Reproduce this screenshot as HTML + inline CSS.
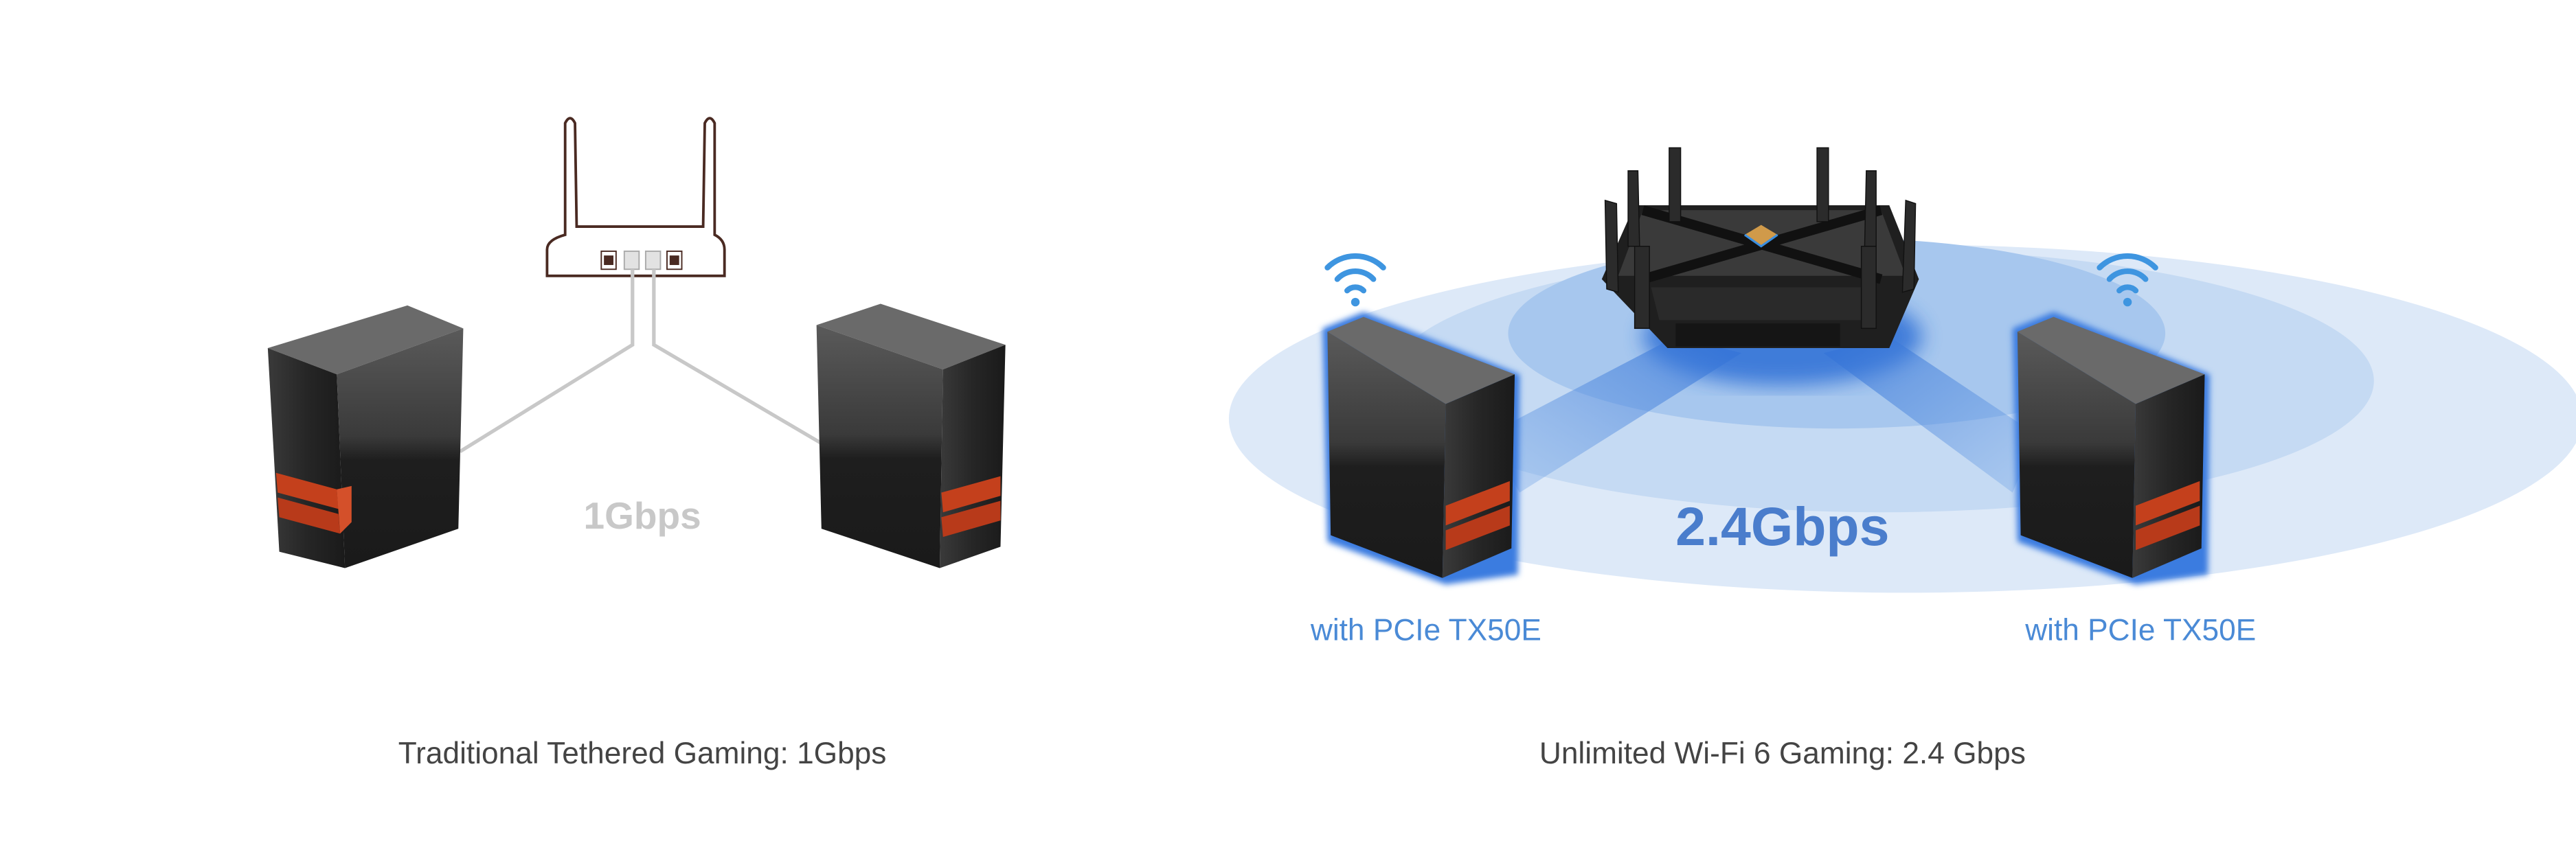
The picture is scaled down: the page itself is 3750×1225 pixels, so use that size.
<!DOCTYPE html>
<html><head><meta charset="utf-8"><style>
html,body{margin:0;padding:0;background:#fff;width:3750px;height:1225px;overflow:hidden}
svg{display:block}
text{font-family:"Liberation Sans",sans-serif}
</style></head><body>
<svg width="3750" height="1225" viewBox="0 0 1568 512.2" xmlns="http://www.w3.org/2000/svg">
<defs>
<linearGradient id="side" x1="0" y1="0" x2="0" y2="1"><stop offset="0" stop-color="#5a5a5a"/><stop offset="0.45" stop-color="#3a3a3a"/><stop offset="0.55" stop-color="#1e1e1e"/><stop offset="1" stop-color="#1a1a1a"/></linearGradient>
<linearGradient id="front" x1="0" y1="0" x2="1" y2="0"><stop offset="0" stop-color="#3a3a3a"/><stop offset="0.5" stop-color="#262626"/><stop offset="1" stop-color="#1a1a1a"/></linearGradient>
<linearGradient id="beamL" x1="1" y1="0" x2="0" y2="1"><stop offset="0" stop-color="#2f6fd6" stop-opacity="0.9"/><stop offset="1" stop-color="#6fa3e6" stop-opacity="0.4"/></linearGradient>
<linearGradient id="beamR" x1="0" y1="0" x2="1" y2="1"><stop offset="0" stop-color="#2f6fd6" stop-opacity="0.9"/><stop offset="1" stop-color="#6fa3e6" stop-opacity="0.4"/></linearGradient>
<filter id="glow" x="-20%" y="-20%" width="140%" height="140%"><feGaussianBlur stdDeviation="1.8"/></filter>
<filter id="soft"><feGaussianBlur stdDeviation="6"/></filter>
</defs>

<!-- LEFT: tethered -->
<g fill="none" stroke="#4a2a22" stroke-width="1.6">
<path d="M344,143 L344,75 Q347,69 350,75 L351,138 L428,138 L429,75 Q432,69 435,75 L435,143 Q441,146 441,152 L441,168 L333,168 L333,152 Q333,146 344,143 Z"/>
</g>
<g stroke="#4a2a22" stroke-width="0.8">
<rect x="366" y="153" width="9" height="11" fill="#fff"/><rect x="368" y="156" width="5" height="5" fill="#4a2a22"/>
<rect x="380" y="153" width="9" height="11" fill="#e2e2e2" stroke="#aaa"/>
<rect x="393" y="153" width="9" height="11" fill="#e2e2e2" stroke="#aaa"/>
<rect x="406" y="153" width="9" height="11" fill="#fff"/><rect x="408" y="156" width="5" height="5" fill="#4a2a22"/>
</g>
<g fill="none" stroke="#c8c8c8" stroke-width="2.2">
<polyline points="385,164 385,210 280,275"/>
<polyline points="398,164 398,210 500,270"/>
</g>

<g>
<polygon points="163,212 248,186 282,200 205,228" fill="#6a6a6a"/>
<polygon points="163,212 205,228 210,346 170,336" fill="url(#front)"/>
<polygon points="205,228 282,200 279,322 210,346" fill="url(#side)"/>
<polygon points="168,288 205,298 206,310 169,300" fill="#c4401c"/>
<polygon points="169,303 206,313 207,325 170,315" fill="#b83a1a"/>
<polygon points="205,298 214,296 214,318 207,325" fill="#d4502a"/>
</g>
<g>
<polygon points="497,198 536,185 612,210 574,225" fill="#6a6a6a"/>
<polygon points="497,198 574,225 572,346 500,322" fill="url(#side)"/>
<polygon points="574,225 612,210 609,333 572,346" fill="url(#front)"/>
<polygon points="573,300 609,290 609,302 574,312" fill="#c4401c"/>
<polygon points="573,315 609,305 609,317 574,327" fill="#b83a1a"/>
</g>
<text x="391" y="322" font-size="23" font-weight="bold" fill="#c8c8c8" text-anchor="middle">1Gbps</text>
<text x="391" y="465" font-size="18.5" fill="#444" text-anchor="middle">Traditional Tethered Gaming: 1Gbps</text>

<!-- RIGHT: wifi -->
<ellipse cx="1160" cy="255" rx="412" ry="106" fill="#dde9f8"/>
<ellipse cx="1145" cy="232" rx="300" ry="80" fill="#c5daf3"/>
<ellipse cx="1118" cy="203" rx="200" ry="58" fill="#a7c7ee"/>
<ellipse cx="1085" cy="205" rx="85" ry="30" fill="#2f6fd6" filter="url(#soft)" opacity="0.85"/>
<polygon points="1020,205 1060,215 925,300 905,265" fill="url(#beamL)" opacity="0.75"/>
<polygon points="1110,215 1150,205 1240,265 1225,300" fill="url(#beamR)" opacity="0.75"/>

<g>
<polygon points="995,125 1150,125 1168,170 1150,212 1015,212 975,170" fill="#1f1f1f"/>
<polygon points="1000,128 1145,128 1160,168 985,168" fill="#3a3a3a"/>
<polygon points="1005,175 1140,175 1135,195 1010,195" fill="#2a2a2a"/>
<path d="M1000,128 L1145,170 M1145,128 L1000,170" stroke="#111" stroke-width="6"/>
<polygon points="1072,137 1082,143 1072,150 1062,143" fill="#d09a4a"/>
<path d="M1062,143 L1072,150 L1082,143" stroke="#3a8ee0" stroke-width="1.3" fill="none"/>
<g fill="#2b2b2b" stroke="#111" stroke-width="0.6">
<rect x="1016" y="90" width="7" height="45"/><rect x="1106" y="90" width="7" height="45"/>
<polygon points="991,104 997,104 998,150 991,150"/><polygon points="1136,104 1142,104 1142,150 1135,150"/>
<polygon points="977,122 984,124 985,178 978,176"/><polygon points="1160,122 1166,124 1165,176 1158,178"/>
<rect x="995" y="150" width="9" height="50"/><rect x="1133" y="150" width="9" height="50"/>
</g>
<rect x="1020" y="197" width="100" height="14" fill="#151515"/>
</g>

<g>
<g filter="url(#glow)"><polygon points="805,200 830,190 925,228 924,350 880,356 808,330" fill="#3b7be0"/></g>
<polygon points="808,202 830,193 922,228 880,246" fill="#6a6a6a"/>
<polygon points="808,202 880,246 878,352 810,326" fill="url(#side)"/>
<polygon points="880,246 922,228 920,334 878,352" fill="url(#front)"/>
<polygon points="880,308 919,293 919,305 880,320" fill="#c4401c"/>
<polygon points="880,323 919,308 919,320 880,335" fill="#b83a1a"/>
</g>
<g>
<g filter="url(#glow)"><polygon points="1225,200 1250,190 1345,228 1344,350 1300,356 1228,330" fill="#3b7be0"/></g>
<polygon points="1228,202 1250,193 1342,228 1300,246" fill="#6a6a6a"/>
<polygon points="1228,202 1300,246 1298,352 1230,326" fill="url(#side)"/>
<polygon points="1300,246 1342,228 1340,334 1298,352" fill="url(#front)"/>
<polygon points="1300,308 1339,293 1339,305 1300,320" fill="#c4401c"/>
<polygon points="1300,323 1339,308 1339,320 1300,335" fill="#b83a1a"/>
</g>

<g fill="none" stroke="#3e95e0" stroke-width="3.4" stroke-linecap="round">
<path d="M808,163 A24,24 0 0 1 842,163"/><path d="M814,170 A15,15 0 0 1 836,170"/><path d="M820,177 A7,7 0 0 1 830,177"/>
<path d="M1278,163 A24,24 0 0 1 1312,163"/><path d="M1284,170 A15,15 0 0 1 1306,170"/><path d="M1290,177 A7,7 0 0 1 1300,177"/>
</g>
<circle cx="825" cy="184" r="2.6" fill="#3e95e0"/><circle cx="1295" cy="184" r="2.6" fill="#3e95e0"/>

<text x="1085" y="332" font-size="33" font-weight="bold" fill="#4a7dcc" text-anchor="middle">2.4Gbps</text>
<text x="868" y="390" font-size="18.5" fill="#4a8ad6" text-anchor="middle">with PCIe TX50E</text>
<text x="1303" y="390" font-size="18.5" fill="#4a8ad6" text-anchor="middle">with PCIe TX50E</text>
<text x="1085" y="465" font-size="18.5" fill="#444" text-anchor="middle">Unlimited Wi-Fi 6 Gaming: 2.4 Gbps</text>
</svg>
</body></html>
